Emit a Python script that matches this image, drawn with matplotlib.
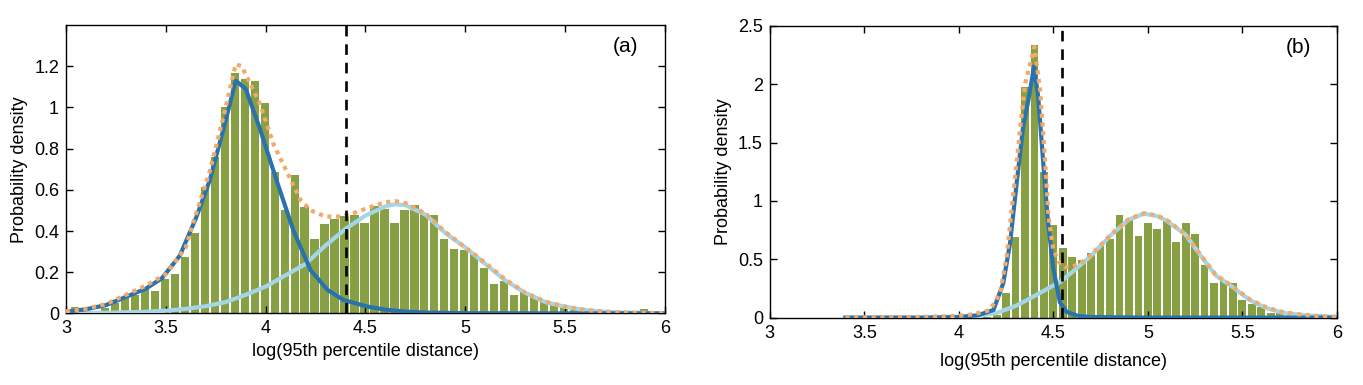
import numpy as np
import matplotlib
matplotlib.use("Agg")
import matplotlib.pyplot as plt
from matplotlib.ticker import FuncFormatter

plt.rcParams['font.family'] = ['Liberation Sans', 'DejaVu Sans']

# ---- panel (a): histogram of log(95th percentile distance) ----
bin_width = 0.05
bin_start_a = 3.02
dens_a = [0.030, 0.008, 0.010, 0.025, 0.052, 0.073, 0.090, 0.130, 0.109, 0.169,
          0.190, 0.273, 0.388, 0.614, 0.760, 1.001, 1.166, 1.138, 1.130, 1.022,
          0.686, 0.501, 0.674, 0.517, 0.361, 0.433, 0.457, 0.473, 0.480, 0.441,
          0.520, 0.509, 0.440, 0.504, 0.525, 0.485, 0.477, 0.359, 0.311, 0.307,
          0.287, 0.219, 0.143, 0.159, 0.088, 0.106, 0.085, 0.065, 0.049, 0.036,
          0.017, 0.020, 0.012, 0.006, 0.005, 0.004, 0.004, 0.020, 0.003]

# fitted components
comp1_x_a = [3.0, 3.1, 3.2, 3.3, 3.4, 3.48, 3.57, 3.65, 3.72, 3.79, 3.85, 3.9,
             3.97, 4.06, 4.14, 4.225, 4.31, 4.39, 4.51, 4.6, 4.7, 4.8, 5.0, 5.5, 6.0]
comp1_y_a = [0.008, 0.02, 0.04, 0.08, 0.12, 0.17, 0.28, 0.46, 0.646, 0.90, 1.13, 1.09,
             0.90, 0.63, 0.40, 0.21, 0.114, 0.065, 0.033, 0.018, 0.009, 0.004, 0.001, 0.0, 0.0]
comp2_x_a = [3.0, 3.2, 3.4, 3.5, 3.6, 3.7, 3.8, 3.9, 4.0, 4.1, 4.2, 4.3, 4.4, 4.5,
             4.6, 4.65, 4.7, 4.8, 4.9, 5.0, 5.1, 5.2, 5.3, 5.4, 5.5, 5.6, 5.7, 5.8, 6.0]
comp2_y_a = [0.001, 0.003, 0.008, 0.013, 0.022, 0.035, 0.055, 0.09, 0.13, 0.185, 0.24, 0.33, 0.41, 0.475,
             0.52, 0.53, 0.525, 0.48, 0.39, 0.32, 0.24, 0.16, 0.10, 0.055, 0.032, 0.016, 0.008, 0.004, 0.001]
mix_x_a = [3.0, 3.1, 3.2, 3.3, 3.4, 3.5, 3.6, 3.65, 3.72, 3.79, 3.85, 3.88, 3.92, 3.97,
           4.04, 4.11, 4.175, 4.225, 4.3, 4.38, 4.45, 4.52, 4.6, 4.65, 4.7, 4.8, 4.9, 5.0,
           5.1, 5.2, 5.3, 5.4, 5.5, 5.6, 5.7, 5.8, 6.0]
mix_y_a = [0.01, 0.022, 0.045, 0.09, 0.135, 0.19, 0.32, 0.48, 0.69, 0.96, 1.21, 1.20, 1.12, 1.02,
           0.82, 0.68, 0.55, 0.50, 0.47, 0.47, 0.49, 0.515, 0.54, 0.545, 0.535, 0.485, 0.395, 0.32,
           0.245, 0.165, 0.10, 0.057, 0.033, 0.017, 0.008, 0.004, 0.001]
thresh_a = 4.4

# ---- panel (b) ----
bin_start_b = 4.125
dens_b = [0.004, 0.020, 0.208, 0.693, 1.975, 2.335, 1.250, 0.793, 0.599, 0.522,
          0.494, 0.551, 0.616, 0.671, 0.879, 0.842, 0.702, 0.808, 0.757, 0.836,
          0.650, 0.808, 0.714, 0.451, 0.299, 0.322, 0.294, 0.151, 0.114, 0.093,
          0.042, 0.050, 0.037, 0.025, 0.020, 0.030, 0.020]

comp1_x_b = [3.4, 3.8, 4.0, 4.1, 4.183, 4.235, 4.271, 4.306, 4.34, 4.368, 4.398,
             4.42, 4.447, 4.47, 4.5, 4.535, 4.57, 4.63, 4.7, 5.0, 6.0]
comp1_y_b = [0.0, 0.0, 0.005, 0.02, 0.065, 0.294, 0.637, 1.151, 1.636, 1.865, 2.15,
             1.89, 1.32, 0.85, 0.42, 0.13, 0.05, 0.015, 0.005, 0.0, 0.0]
comp2_x_b = [3.4, 3.9, 4.0, 4.1, 4.2, 4.3, 4.36, 4.45, 4.54, 4.6, 4.7, 4.8, 4.9, 4.98,
             5.05, 5.1, 5.2, 5.28, 5.36, 5.45, 5.54, 5.63, 5.72, 5.8, 5.9, 6.0]
comp2_y_b = [0.0, 0.0, 0.005, 0.015, 0.04, 0.1, 0.15, 0.23, 0.31, 0.39, 0.53, 0.70, 0.84, 0.89,
             0.87, 0.83, 0.71, 0.53, 0.36, 0.26, 0.15, 0.08, 0.04, 0.025, 0.012, 0.006]
mix_x_b = [3.4, 3.6, 3.8, 4.0, 4.08, 4.165, 4.218, 4.253, 4.29, 4.324, 4.35, 4.40, 4.43,
           4.456, 4.474, 4.5, 4.535, 4.56, 4.59, 4.64, 4.7, 4.8, 4.9, 4.98, 5.05, 5.1, 5.2,
           5.28, 5.36, 5.45, 5.54, 5.63, 5.72, 5.8, 5.9, 6.0]
mix_y_b = [0.003, 0.004, 0.006, 0.015, 0.03, 0.065, 0.21, 0.52, 1.09, 1.61, 2.0, 2.32, 1.95,
           1.35, 0.87, 0.58, 0.465, 0.435, 0.43, 0.46, 0.535, 0.705, 0.845, 0.895, 0.875, 0.835, 0.715,
           0.535, 0.365, 0.265, 0.155, 0.085, 0.045, 0.028, 0.014, 0.007]
thresh_b = 4.545

x_ticks = [3, 3.5, 4, 4.5, 5, 5.5, 6]

BAR_COLOR = '#86a043'
DARK_BLUE = '#2a72ad'
LIGHT_BLUE = '#a5d6e8'
ORANGE = '#f3a96a'


def fmt(v, pos):
    return ('%g' % round(v, 3))


def draw_panel(ax, bin_start, dens, c1x, c1y, c2x, c2y, mx, my, thresh, ymax, yticks, tag, xpad):
    centers = bin_start + bin_width / 2 + bin_width * np.arange(len(dens))
    ax.bar(centers, dens, width=bin_width * 0.82, color=BAR_COLOR, edgecolor='none', zorder=1)
    ax.plot(c2x, c2y, color=LIGHT_BLUE, lw=3.0, zorder=3)
    ax.plot(c1x, c1y, color=DARK_BLUE, lw=3.0, zorder=4)
    ax.plot(mx, my, color=ORANGE, lw=3.0, ls=(0, (1, 1.1)), zorder=5)
    ax.axvline(thresh, color='black', lw=1.9, ls=(0, (4, 3)), zorder=6)
    ax.set_xlim(3, 6)
    ax.set_ylim(0, ymax)
    ax.set_xticks(x_ticks)
    ax.set_yticks(yticks)
    ax.xaxis.set_major_formatter(FuncFormatter(fmt))
    ax.yaxis.set_major_formatter(FuncFormatter(fmt))
    ax.tick_params(direction='in', length=5, width=1, top=True, right=True, labelsize=13, pad=5)
    for s in ax.spines.values():
        s.set_linewidth(1.0)
    ax.set_xlabel('log(95th percentile distance)', fontsize=13, labelpad=xpad)
    ax.set_ylabel('Probability density', fontsize=13, labelpad=4)
    ax.text(0.955, 0.925, tag, transform=ax.transAxes, fontsize=15, ha='right', va='center')


fig = plt.figure(figsize=(13.63, 3.85), dpi=100)
ax_a = fig.add_axes([0.0484, 0.186, 0.4395, 0.749])
ax_b = fig.add_axes([0.5648, 0.175, 0.416, 0.758])

draw_panel(ax_a, bin_start_a, dens_a, comp1_x_a, comp1_y_a, comp2_x_a, comp2_y_a,
           mix_x_a, mix_y_a, thresh_a, 1.4, [0, 0.2, 0.4, 0.6, 0.8, 1, 1.2], '(a)', 4)
draw_panel(ax_b, bin_start_b, dens_b, comp1_x_b, comp1_y_b, comp2_x_b, comp2_y_b,
           mix_x_b, mix_y_b, thresh_b, 2.5, [0, 0.5, 1, 1.5, 2, 2.5], '(b)', 8)

fig.savefig('out.png', dpi=100)
